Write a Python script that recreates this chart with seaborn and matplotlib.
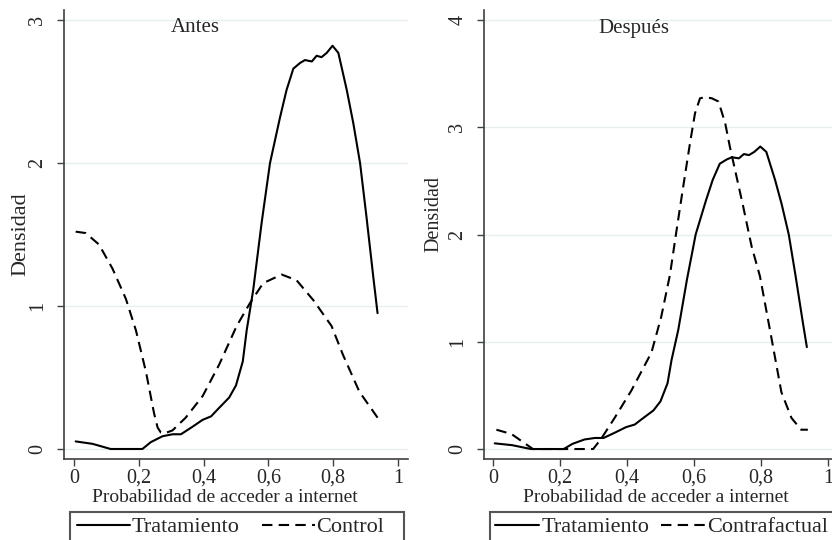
import pandas as pd
import seaborn as sns
import matplotlib.pyplot as plt
from matplotlib.lines import Line2D
from matplotlib.patches import Rectangle

#% ===============================
# densities (kernel density curves)
trat_x = [0.005, 0.057, 0.085, 0.113, 0.211, 0.237, 0.273, 0.304, 0.330, 0.366,
          0.397, 0.423, 0.443, 0.479, 0.500, 0.521, 0.533, 0.553, 0.579, 0.605,
          0.636, 0.656, 0.677, 0.698, 0.713, 0.734, 0.749, 0.764, 0.780, 0.798,
          0.816, 0.842, 0.862, 0.883, 0.903, 0.924, 0.937]
trat_y = [0.053, 0.036, 0.018, 0.0, 0.0, 0.048, 0.089, 0.103, 0.103, 0.156,
          0.204, 0.228, 0.276, 0.36, 0.445, 0.613, 0.83, 1.11, 1.58, 2.00,
          2.32, 2.51, 2.66, 2.70, 2.72, 2.71, 2.75, 2.74, 2.77, 2.82,
          2.77, 2.51, 2.28, 2.00, 1.62, 1.20, 0.95]

ctrl_x = [0.005, 0.036, 0.077, 0.119, 0.160, 0.191, 0.222, 0.247, 0.258, 0.268,
          0.280, 0.304, 0.345, 0.397, 0.448, 0.502, 0.543, 0.584, 0.641, 0.687,
          0.739, 0.795, 0.830, 0.881, 0.943]
ctrl_y = [1.52, 1.51, 1.43, 1.26, 1.05, 0.83, 0.54, 0.25, 0.15, 0.115,
          0.11, 0.13, 0.22, 0.37, 0.59, 0.86, 1.02, 1.16, 1.22, 1.18,
          1.04, 0.86, 0.66, 0.40, 0.20]

cf_x = [0.010, 0.055, 0.119, 0.299, 0.323, 0.363, 0.413, 0.473, 0.502, 0.528,
        0.548, 0.568, 0.588, 0.603, 0.618, 0.633, 0.653, 0.673, 0.693, 0.707,
        0.727, 0.747, 0.772, 0.797, 0.831, 0.861, 0.891, 0.920, 0.940]
cf_y = [0.18, 0.14, 0.0, 0.0, 0.096, 0.29, 0.545, 0.90, 1.23, 1.62,
        2.04, 2.45, 2.85, 3.13, 3.27, 3.28, 3.27, 3.24, 3.04, 2.82,
        2.54, 2.26, 1.89, 1.61, 1.04, 0.53, 0.29, 0.18, 0.18]

xticks = [0, 0.2, 0.4, 0.6, 0.8, 1]
xtick_labels = ['0', '0,2', '0,4', '0,6', '0,8', '1']

trat = pd.DataFrame({'x': trat_x, 'y': trat_y})
ctrl = pd.DataFrame({'x': ctrl_x, 'y': ctrl_y})
cf = pd.DataFrame({'x': cf_x, 'y': cf_y})

#% ===============================
sns.set_style('white')
plt.rcParams['font.family'] = ['Liberation Serif', 'DejaVu Serif']

W, H = 832, 540
fig = plt.figure(figsize=(W / 100, H / 100), dpi=100)

def px(x0, y_top, x1, y_bot):
    # pixel box -> figure fraction
    return [x0 / W, 1 - y_bot / H, (x1 - x0) / W, (y_bot - y_top) / H]

ax1 = fig.add_axes(px(64, 10, 408, 459))
ax2 = fig.add_axes(px(484, 10, 838, 459))

dash = (5, 3)
lw = 1.5

sns.lineplot(data=trat, x='x', y='y', ax=ax1, color='black', lw=lw)
sns.lineplot(data=ctrl, x='x', y='y', ax=ax1, color='black', lw=lw, linestyle=(0, dash))
sns.lineplot(data=trat, x='x', y='y', ax=ax2, color='black', lw=lw)
sns.lineplot(data=cf, x='x', y='y', ax=ax2, color='black', lw=lw, linestyle=(0, dash))

ax1.set(xlim=(-0.031, 1.031), ylim=(-0.070, 3.070), yticks=[0, 1, 2, 3])
ax2.set(xlim=(-0.027, 1.030), ylim=(-0.093, 4.093), yticks=[0, 1, 2, 3, 4])

for ax in (ax1, ax2):
    ax.set_xticks(xticks)
    ax.set_xticklabels(xtick_labels)
    ax.set_xlabel('Probabilidad de acceder a internet', fontsize=14)
    ax.grid(axis='y', color='#e6eeee', lw=1)
    ax.set_axisbelow(True)
    for s in ('top', 'right'):
        ax.spines[s].set_visible(False)
    for s in ('left', 'bottom'):
        ax.spines[s].set_color('#404040')
        ax.spines[s].set_linewidth(1.2)
    ax.tick_params(axis='both', direction='out', length=5, width=1,
                   color='#404040', labelsize=14.5, left=True, bottom=True)
    ax.tick_params(axis='x', pad=2)
    ax.tick_params(axis='y', pad=7)
    for t in ax.get_yticklabels():
        t.set_rotation(90)
        t.set_va('center')
    ax.xaxis.label.set_va('center')

ax1.set_ylabel('Densidad', fontsize=16, va='center')
ax2.set_ylabel('Densidad', fontsize=14.5, va='center')
ax1.xaxis.set_label_coords(0.468, -0.085)
ax2.xaxis.set_label_coords(0.486, -0.085)
ax1.yaxis.set_label_coords(-0.125, 0.501)
ax2.yaxis.set_label_coords(-0.141, 0.546)

fig.text(195 / W, 1 - 28 / H, 'Antes', ha='center', va='center', fontsize=15)
fig.text(634 / W, 1 - 28 / H, 'Después', ha='center', va='center', fontsize=15)

#% ===============================
# legends in boxes under each panel
solid = Line2D([], [], color='black', lw=lw)
dashed = Line2D([], [], color='black', lw=lw, linestyle=(0, dash))

fig.patches.append(Rectangle((70 / W, -0.05), (404 - 70) / W, 0.05 + (540 - 512) / H,
                             transform=fig.transFigure, fill=False,
                             edgecolor='#555555', lw=1.5))
fig.patches.append(Rectangle((490 / W, -0.05), 0.5, 0.05 + (540 - 512) / H,
                             transform=fig.transFigure, fill=False,
                             edgecolor='#555555', lw=1.5))

fig.legend([solid, dashed], ['Tratamiento', 'Control'], loc='center left',
           bbox_to_anchor=(77 / W, 1 - 527 / H), ncol=2, frameon=False,
           fontsize=16, handlelength=2.4, handletextpad=0.05,
           columnspacing=1.0, borderpad=0, borderaxespad=0)
fig.legend([solid, dashed], ['Tratamiento', 'Contrafactual'], loc='center left',
           bbox_to_anchor=(495 / W, 1 - 527 / H), ncol=2, frameon=False,
           fontsize=16, handlelength=2.0, handletextpad=0.1,
           columnspacing=0.5, borderpad=0, borderaxespad=0)

fig.savefig('out.png', dpi=100)
